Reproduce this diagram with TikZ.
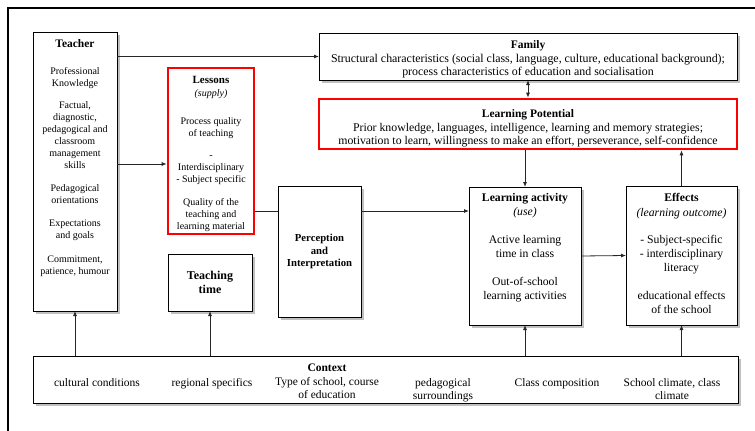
\documentclass[tikz,border=0pt]{standalone}
\usepackage{fontspec}
\setmainfont{Liberation Serif}
\usetikzlibrary{arrows.meta,shadows,calc}
\begin{document}
\begin{tikzpicture}[x=1pt,y=-1pt,
 box/.style={draw=black,line width=0.9pt,fill=white,inner sep=0pt,outer sep=0pt,
   drop shadow={shadow xshift=2.5pt,shadow yshift=-2.5pt,fill=black!45,opacity=0.55}},
 redbox/.style={draw=red,line width=2.6pt,fill=white,inner sep=0pt,outer sep=1.3pt},
 txt/.style={inner sep=0pt,align=center,font=\fontsize{10}{12}\selectfont},
 big/.style={inner sep=0pt,align=center,font=\fontsize{11.7}{14}\selectfont},
 ctxt/.style={inner sep=0pt,align=center,font=\fontsize{11.5}{13}\selectfont},
 arr/.style={draw=black!85,line width=0.8pt,-{Latex[length=5pt,width=4pt]}},
 dbl/.style={draw=black!85,line width=0.8pt,{Latex[length=5pt,width=4pt]}-{Latex[length=5pt,width=4pt]}},
 conn/.style={draw=black!85,line width=0.8pt},
 frame/.style={draw=black,line width=1.4pt},
]
\useasboundingbox (0,0) rectangle (755,431);
\draw[frame] (755,8) -- (8,8) -- (8,431);

% Teacher
\node[box,minimum width=84pt,minimum height=279pt] (teacher) at (75,171.5) {};
\node[txt,anchor=north] (teachertxt) at (75,39) {{\fontsize{11.5}{12}\selectfont\bfseries Teacher}\\[15pt]
 Professional\\ Knowledge\\[10pt] Factual,\\ diagnostic,\\ pedagogical and\\ classroom\\ management\\ skills\\[11pt]
 Pedagogical\\ orientations\\[11pt] Expectations\\ and goals\\[12pt] Commitment,\\ patience, humour};

% Lessons
\node[redbox,minimum width=86pt,minimum height=166pt] (lessons) at (211,151) {};
\node[txt,anchor=north] (lessonstxt) at (211,76) {{\fontsize{11}{12}\selectfont\bfseries Lessons}\\[1pt] \textit{(supply)}\\[16pt]
 Process quality\\ of teaching\\[10pt] -\\ Interdisciplinary\\ - Subject specific\\[11pt] Quality of the\\ teaching and\\ learning material};

% Teaching time
\node[box,minimum width=84pt,minimum height=57pt,align=center,font=\fontsize{12}{14}\selectfont\bfseries] (ttime) at (210,282.5) {Teaching\\time};

% Family
\node[box,minimum width=418pt,minimum height=47pt,align=center,font=\fontsize{11.9}{13}\selectfont] (family) at (528,56.5)
 {\rule{0pt}{14pt}{\fontsize{11.5}{13}\selectfont\bfseries Family}\\[1.5pt] Structural characteristics (social class, language, culture, educational background);\\ process characteristics of education and socialisation};

% Learning Potential
\node[redbox,minimum width=418pt,minimum height=50pt,align=center,font=\fontsize{11.8}{13}\selectfont] (lp) at (528,124)
 {\rule{0pt}{16pt}{\fontsize{11.5}{13}\selectfont\bfseries Learning Potential}\\[1pt] Prior knowledge, languages, intelligence, learning and memory strategies;\\ motivation to learn, willingness to make an effort, perseverance, self-confidence};

% Perception
\node[box,minimum width=83pt,minimum height=131pt,align=center,font=\fontsize{10.7}{12.5}\selectfont\bfseries] (perc) at (319.5,251.5) {Perception\\and\\Interpretation};

% Learning activity
\node[box,minimum width=112pt,minimum height=138pt] (la) at (525,256) {};
\node[big,anchor=north] (latxt) at (525,193) {\textbf{Learning activity}\\ \textit{(use)}\\[14pt]
 Active learning\\ time in class\\[14pt] Out-of-school\\ learning activities};

% Effects
\node[box,minimum width=111pt,minimum height=139pt] (eff) at (681.5,255.5) {};
\node[big,anchor=north] (efftxt) at (681.5,193) {\textbf{Effects}\\[1pt] \textit{(learning outcome)}\\[13pt]
 - Subject-specific\\ - interdisciplinary\\ literacy\\[14pt] educational effects\\ of the school};

% Context
\node[box,minimum width=705pt,minimum height=47pt] (ctx) at (385.5,379.5) {};
\node[ctxt,anchor=north] (c3) at (327,364) {\textbf{Context}\\[1pt] Type of school, course\\ of education};
\node[ctxt,anchor=base] (c1) at (97,386) {cultural conditions};
\node[ctxt,anchor=base] (c2) at (212,386) {regional specifics};
\node[ctxt,anchor=north] (c4) at (443,378) {pedagogical\\ surroundings};
\node[ctxt,anchor=base] (c5) at (557,386) {Class composition};
\node[ctxt,anchor=north] (c6) at (672,378) {School climate, class\\ climate};

% connectors
\coordinate (tl) at (117,164);
\coordinate (mid) at (300,211);
\draw[arr] (teacher.east |- family.west) -- (family.west);
\draw[arr] (teacher.east |- tl) -- (lessons.west |- tl);
\draw[conn] (lessons.east |- mid) -- (perc.west |- mid);
\draw[arr] (perc.east |- mid) -- (la.west |- mid);
\draw[dbl] (family.south) -- (lp.north);
\draw[arr] (lp.south -| la) -- (la.north);
\draw[arr] (eff.north) -- (eff.north |- lp.south);
\draw[arr] (la.east) -- (eff.west);
\draw[arr] (ctx.north -| teacher) -- (teacher.south);
\draw[arr] (ctx.north -| ttime) -- (ttime.south);
\draw[arr] (ctx.north -| la) -- (la.south);
\draw[arr] (ctx.north -| eff) -- (eff.south);
\end{tikzpicture}
\end{document}
